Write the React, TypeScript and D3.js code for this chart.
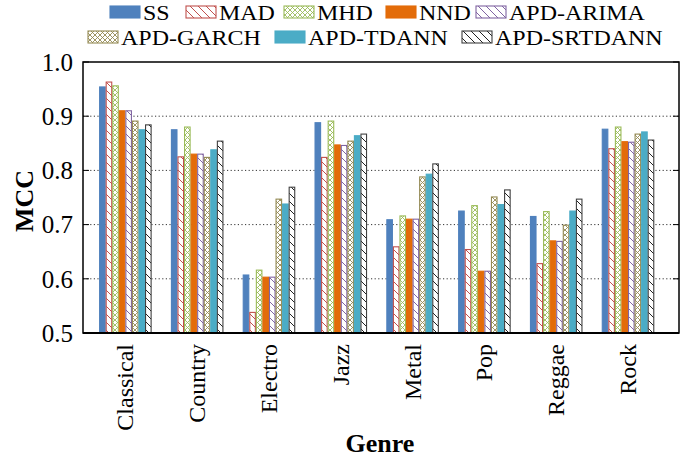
import React from "react";
import * as d3 from "d3";

const genres = ["Classical", "Country", "Electro", "Jazz", "Metal", "Pop", "Reggae", "Rock"];
const seriesNames = ["SS", "MAD", "MHD", "NND", "APD-ARIMA", "APD-GARCH", "APD-TDANN", "APD-SRTDANN"];
const SS = [0.954, 0.875, 0.607, 0.888, 0.709, 0.725, 0.715, 0.876];
const MAD = [0.963, 0.825, 0.538, 0.824, 0.659, 0.654, 0.628, 0.84];
const MHD = [0.956, 0.88, 0.616, 0.891, 0.716, 0.735, 0.724, 0.88];
const NND = [0.91, 0.83, 0.603, 0.847, 0.71, 0.614, 0.67, 0.853];
const ARIMA = [0.91, 0.83, 0.603, 0.846, 0.71, 0.614, 0.669, 0.852];
const GARCH = [0.891, 0.824, 0.747, 0.854, 0.788, 0.751, 0.699, 0.867];
const TDANN = [0.875, 0.838, 0.738, 0.864, 0.793, 0.737, 0.725, 0.871];
const SRTDANN = [0.884, 0.854, 0.769, 0.867, 0.812, 0.764, 0.747, 0.856];
const seriesValues = [SS, MAD, MHD, NND, ARIMA, GARCH, TDANN, SRTDANN];
const yTicks = [0.5, 0.6, 0.7, 0.8, 0.9, 1.0];

type Style = { fill: string; stroke: string };
const styles: Style[] = [
  { fill: "#4f81bd", stroke: "#4f81bd" },
  { fill: "url(#pMAD)", stroke: "#c0504d" },
  { fill: "url(#pMHD)", stroke: "#9bbb59" },
  { fill: "#e36c09", stroke: "#e36c09" },
  { fill: "url(#pARIMA)", stroke: "#8064a2" },
  { fill: "url(#pGARCH)", stroke: "#948a54" },
  { fill: "#4bacc6", stroke: "#4bacc6" },
  { fill: "url(#pSRT)", stroke: "#404040" },
];

const legendPos = [
  [110, 6], [186, 6], [284, 6], [386, 6], [476, 6],
  [88, 31], [275, 31], [462, 31],
];

const L = 83, R = 679, T = 62, B = 333;
const FONT = "'Liberation Serif', 'Times New Roman', serif";

export default function App() {
  const x = d3.scaleLinear().domain([-0.59, 7.71]).range([L, R]);
  const y = d3.scaleLinear().domain([0.5, 1.0]).range([B, T]);
  const bw = (x(1) - x(0)) * 0.0914;

  const diag = (id: string, color: string) => (
    <pattern id={id} patternUnits="userSpaceOnUse" width={8} height={8}>
      <rect width={8} height={8} fill="white" />
      <path d="M0,0 L8,8 M-2,6 L2,10 M6,-2 L10,2" stroke={color} strokeWidth={1} />
    </pattern>
  );
  const cross = (id: string, color: string) => (
    <pattern id={id} patternUnits="userSpaceOnUse" width={5} height={5}>
      <rect width={5} height={5} fill="white" />
      <path d="M0,0 L5,5 M5,0 L0,5" stroke={color} strokeWidth={0.9} />
    </pattern>
  );

  return (
    <svg width={696} height={460} style={{ position: "absolute", left: 0, top: 0 }} fontFamily={FONT}>
      <defs>
        {diag("pMAD", "#c0504d")}
        {cross("pMHD", "#9bbb59")}
        {diag("pARIMA", "#8064a2")}
        {cross("pGARCH", "#948a54")}
        {diag("pSRT", "#222")}
      </defs>
      <rect width={696} height={460} fill="white" />
      {yTicks.slice(1, -1).map((t) => (
        <line key={t} x1={L} x2={R} y1={y(t)} y2={y(t)} stroke="#333" strokeWidth={1} strokeDasharray="1.2,2.4" />
      ))}
      {genres.map((g, gi) =>
        seriesValues.map((vals, si) => {
          const x0 = x(gi) + (si - 4) * bw;
          const yv = y(vals[gi]);
          return (
            <rect
              key={g + si}
              x={x0 + 0.5}
              y={yv}
              width={bw - 1}
              height={B - yv}
              fill={styles[si].fill}
              stroke={styles[si].stroke}
              strokeWidth={1.1}
            />
          );
        })
      )}
      <rect x={L} y={T} width={R - L} height={B - T} fill="none" stroke="black" strokeWidth={1.5} />
      <line x1={L} x2={R} y1={B} y2={B} stroke="black" strokeWidth={2} />
      {yTicks.map((t) => (
        <g key={t}>
          <line x1={L} x2={L + 6} y1={y(t)} y2={y(t)} stroke="black" strokeWidth={1} />
          <line x1={R - 6} x2={R} y1={y(t)} y2={y(t)} stroke="black" strokeWidth={1} />
          <text x={73} y={y(t)} dy="0.35em" textAnchor="end" fontSize={25}>
            {t.toFixed(1)}
          </text>
        </g>
      ))}
      {genres.map((g, gi) => (
        <text
          key={g}
          transform={`translate(${x(gi) + 8},344) rotate(-90)`}
          textAnchor="end"
          fontSize={24}
        >
          {g}
        </text>
      ))}
      <text x={380} y={452} textAnchor="middle" fontSize={26} fontWeight="bold">
        Genre
      </text>
      <text transform={`translate(33,201) rotate(-90)`} textAnchor="middle" fontSize={26} fontWeight="bold">
        MCC
      </text>
      {seriesNames.map((n, i) => {
        const [lx, ly] = legendPos[i];
        return (
          <g key={n}>
            <rect x={lx} y={ly} width={30} height={12} fill={styles[i].fill} stroke={styles[i].stroke} strokeWidth={1.1} />
            <text transform={`translate(${lx + 33},${ly + 13.5}) scale(1.09,1)`} fontSize={22}>
              {n}
            </text>
          </g>
        );
      })}
    </svg>
  );
}
